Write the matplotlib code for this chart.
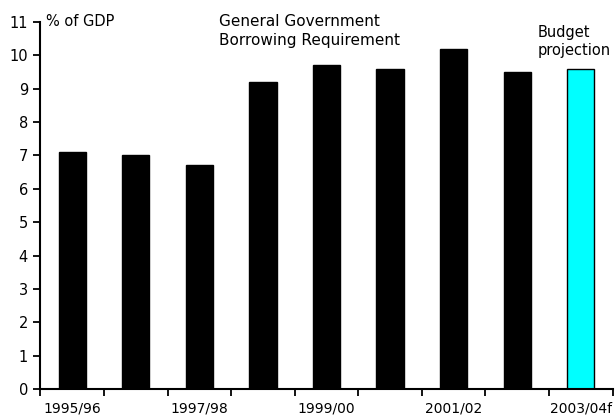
import matplotlib
matplotlib.use("Agg")
import matplotlib.pyplot as plt
import numpy as np

plt.rcParams['font.family'] = 'DejaVu Sans'

years = ["1995/96", "1996/97", "1997/98", "1998/99", "1999/00",
         "2000/01", "2001/02", "2002/03", "2003/04f"]
borrowing = [7.1, 7.0, 6.7, 9.2, 9.7, 9.6, 10.2, 9.5, 9.6]
is_projection = [False] * 8 + [True]

fig = plt.figure(figsize=(6.16, 4.19), dpi=100)
ax = fig.add_axes([0.0657, 0.0716, 0.9288, 0.876])

x = np.arange(len(years))
colors = ['#00FFFF' if p else 'black' for p in is_projection]
ax.bar(x, borrowing, width=0.43, color=colors, edgecolor='black', linewidth=1)

ax.set_xlim(-0.5, len(years) - 0.5)
ax.set_ylim(0, 11)
ax.set_yticks(range(0, 12))

# labels every other year, ticks on category boundaries
ax.set_xticks(x[::2])
ax.set_xticklabels(years[::2], fontsize=10)
ax.set_xticks(np.arange(-0.5, len(years)), minor=True)
ax.tick_params(axis='x', which='major', length=0, pad=9)
ax.tick_params(axis='x', which='minor', length=5, width=1.3, direction='out')
ax.tick_params(axis='y', length=5, width=1.3, direction='out', labelsize=10.5, pad=4)

for side in ('top', 'right'):
    ax.spines[side].set_visible(False)
for side in ('left', 'bottom'):
    ax.spines[side].set_linewidth(1.5)

ax.text(0.009, 1.0, "% of GDP", transform=ax.transAxes, fontsize=10.5,
        ha='left', va='center')
fig.text(0.355, 0.967, "General Government\nBorrowing Requirement",
         fontsize=11, ha='left', va='top', linespacing=1.35)
fig.text(0.872, 0.94, "Budget\nprojection", fontsize=10.5,
         ha='left', va='top', linespacing=1.2)

fig.savefig("out.png", dpi=100)
